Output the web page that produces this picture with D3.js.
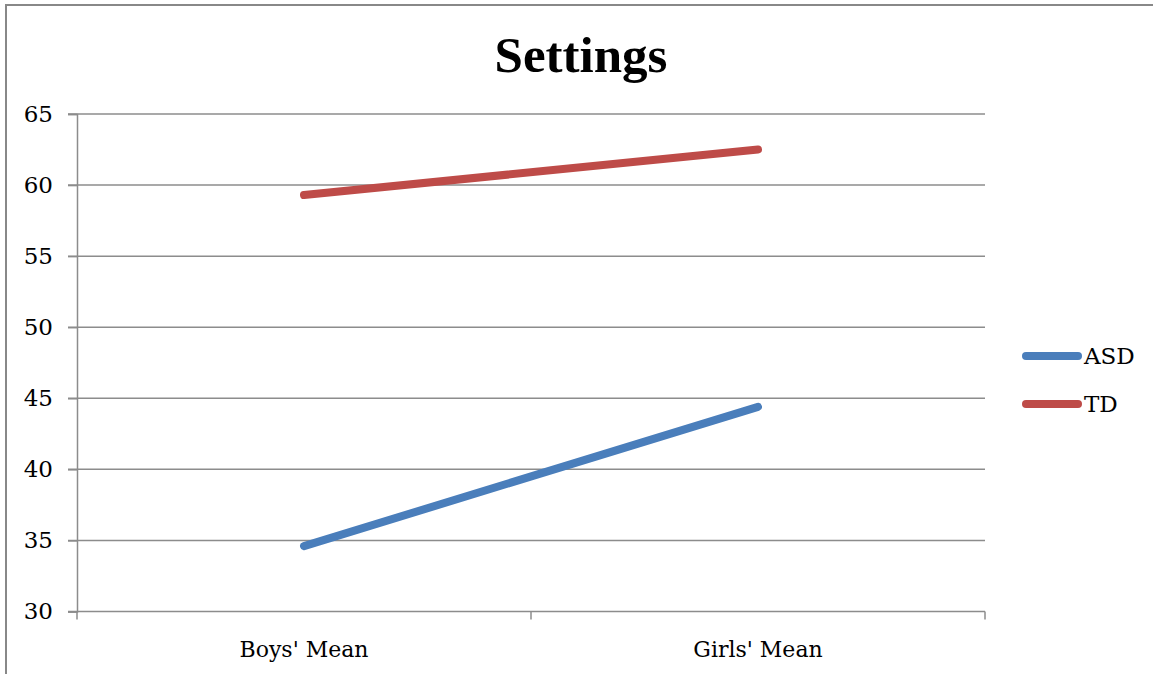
<!DOCTYPE html>
<html>
<head>
<meta charset="utf-8">
<script src="https://cdn.jsdelivr.net/npm/d3@7"></script>
<style>
  body { margin: 0; background: #fff; }
  svg text { font-family: "DejaVu Serif", serif; fill: #000; }
</style>
</head>
<body>
<div id="chart"></div>
<script>
const categories = ["Boys' Mean", "Girls' Mean"];
const asdValues = [34.6, 44.4];
const tdValues = [59.3, 62.5];
const yTicks = [30, 35, 40, 45, 50, 55, 60, 65];
const seriesNames = ["ASD", "TD"];
const seriesColors = ["#4a7ebb", "#be4b48"];

const width = 1153,
  height = 674;
const plot = { left: 77, right: 985, top: 114, bottom: 611.5 };

const svg = d3
  .select("#chart")
  .append("svg")
  .attr("width", width)
  .attr("height", height);

// outer chart border (only top and left visible in the crop)
svg
  .append("path")
  .attr("d", `M6,${height} V5 H${width}`)
  .attr("fill", "none")
  .attr("stroke", "#888")
  .attr("stroke-width", 2);

const x = d3.scaleBand().domain(categories).range([plot.left, plot.right]);
const y = d3.scaleLinear().domain([30, 65]).range([plot.bottom, plot.top]);

// gridlines
svg
  .append("g")
  .selectAll("line")
  .data(yTicks)
  .enter()
  .append("line")
  .attr("x1", plot.left - 9)
  .attr("x2", plot.right)
  .attr("y1", (d) => y(d))
  .attr("y2", (d) => y(d))
  .attr("stroke", "#8c8c8c")
  .attr("stroke-width", 1.5);

// y axis
const yAxis = svg
  .append("g")
  .attr("transform", `translate(${plot.left},0)`)
  .call(d3.axisLeft(y).tickValues(yTicks).tickSize(9).tickPadding(15));
yAxis.select(".domain").attr("stroke", "#8c8c8c").attr("stroke-width", 1.5);
yAxis.selectAll(".tick line").attr("stroke", "#8c8c8c").attr("stroke-width", 1.5);
yAxis
  .selectAll(".tick text")
  .attr("font-size", 23)
  .attr("font-family", "DejaVu Serif")
  .attr("fill", "#000");

// x axis
const xAxis = svg
  .append("g")
  .attr("transform", `translate(0,${plot.bottom})`)
  .call(d3.axisBottom(x).tickSize(0).tickPadding(30));
xAxis.select(".domain").remove();
xAxis
  .selectAll(".tick text")
  .attr("font-size", 22)
  .attr("font-family", "DejaVu Serif")
  .attr("fill", "#000");

// category boundary ticks
const bounds = [plot.left, plot.left + x.bandwidth(), plot.right];
svg
  .append("g")
  .selectAll("line")
  .data(bounds)
  .enter()
  .append("line")
  .attr("x1", (d) => d)
  .attr("x2", (d) => d)
  .attr("y1", plot.bottom)
  .attr("y2", plot.bottom + 8)
  .attr("stroke", "#8c8c8c")
  .attr("stroke-width", 1.5);

// series lines
const series = [asdValues, tdValues];
const line = d3
  .line()
  .x((d, i) => x(categories[i]) + x.bandwidth() / 2)
  .y((d) => y(d));

svg
  .append("g")
  .selectAll("path")
  .data(series)
  .enter()
  .append("path")
  .attr("d", line)
  .attr("fill", "none")
  .attr("stroke", (d, i) => seriesColors[i])
  .attr("stroke-width", 8)
  .attr("stroke-linecap", "round");

// title
svg
  .append("text")
  .attr("x", 581)
  .attr("y", 72)
  .attr("text-anchor", "middle")
  .style("font-family", "'Liberation Serif', serif")
  .attr("font-weight", "bold")
  .attr("font-size", 51)
  .text("Settings");

// legend
const legend = svg
  .append("g")
  .selectAll("g")
  .data(seriesNames)
  .enter()
  .append("g")
  .attr("transform", (d, i) => `translate(1022,${356 + i * 48})`);
legend
  .append("line")
  .attr("x1", 4)
  .attr("x2", 56)
  .attr("stroke", (d, i) => seriesColors[i])
  .attr("stroke-width", 8)
  .attr("stroke-linecap", "round");
legend
  .append("text")
  .attr("x", 62)
  .attr("dy", "0.35em")
  .attr("font-size", 23)
  .text((d) => d);
</script>
</body>
</html>
